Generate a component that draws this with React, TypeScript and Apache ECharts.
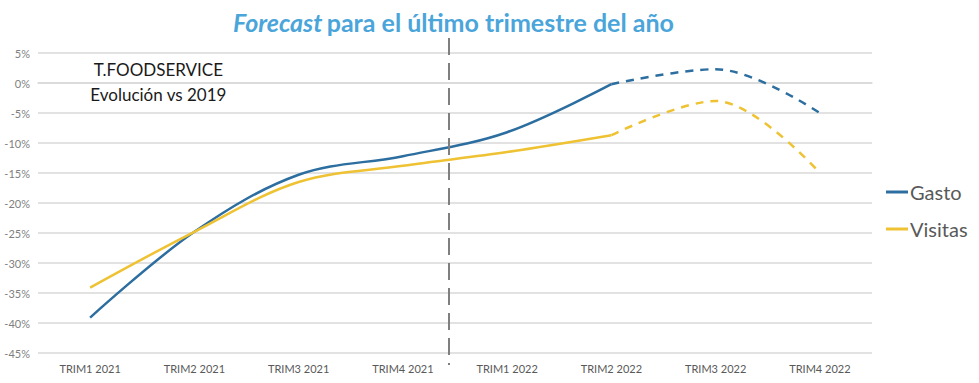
import React, { useEffect, useRef } from "react";
import * as echarts from "echarts";

const categories = [
  "TRIM1 2021", "TRIM2 2021", "TRIM3 2021", "TRIM4 2021",
  "TRIM1 2022", "TRIM2 2022", "TRIM3 2022", "TRIM4 2022",
];
// Solid (actual) part up to TRIM2 2022, dashed (forecast) from TRIM2 2022
const gastoActual = [-39.1, -24.8, -15.3, -12.2, -8.2, -0.2, null, null];
const gastoForecast = [null, null, null, null, null, -0.2, 2.3, -5.0];
const visitasActual = [-34.1, -24.8, -16.5, -13.8, -11.5, -8.7, null, null];
const visitasForecast = [null, null, null, null, null, -8.7, -3.0, -15.0];
const yTicks = { min: -45, max: 5, interval: 5 };
const titleItalic = "Forecast";
const titleRest = "para el último trimestre del año";
const noteLines = ["T.FOODSERVICE", "Evolución vs 2019"];

const BLUE = "#2C6E9F";
const YELLOW = "#EEC232";
const FONT = "Lato, 'Open Sans', sans-serif";

export default function App() {
  const ref = useRef<HTMLDivElement>(null);
  useEffect(() => {
    if (!ref.current) return;
    const chart = echarts.init(ref.current, null, { renderer: "svg" });
    const lineBase = { type: "line", smooth: 0.35, symbol: "none", connectNulls: false };
    chart.setOption({
      animation: false,
      backgroundColor: "#ffffff",
      textStyle: { fontFamily: FONT },
      title: {
        text: `{i|${titleItalic}} {b|${titleRest}}`,
        left: 228,
        top: 4,
        textStyle: {
          rich: {
            i: { fontFamily: FONT, fontStyle: "italic", fontWeight: "bold", fontSize: 25, color: "#4AA5DA" },
            b: { fontFamily: FONT, fontWeight: "bold", fontSize: 25, color: "#4AA5DA" },
          },
        },
      },
      legend: {
        orient: "vertical",
        left: 881,
        top: 177,
        itemGap: 17,
        icon: "rect",
        itemWidth: 22,
        itemHeight: 3,
        data: ["Gasto", "Visitas"],
        textStyle: { fontFamily: FONT, fontSize: 20, color: "#595959", padding: [0, 0, 0, -3] },
      },
      grid: { left: 38, right: 107, top: 53, bottom: 30 },
      xAxis: {
        type: "category",
        data: categories,
        boundaryGap: true,
        axisLine: { lineStyle: { color: "#D9D9D9", width: 1.5 } },
        axisTick: { show: false },
        axisLabel: { color: "#595959", fontSize: 11, fontFamily: FONT, margin: 10 },
      },
      yAxis: {
        type: "value",
        min: yTicks.min,
        max: yTicks.max,
        interval: yTicks.interval,
        axisLine: { show: false },
        axisTick: { show: false },
        splitLine: { lineStyle: { color: "#D9D9D9", width: 1.5 } },
        axisLabel: { color: "#7F7F7F", fontSize: 11, fontFamily: FONT, margin: 8, formatter: "{value}%" },
      },
      series: [
        { ...lineBase, name: "Gasto", data: gastoActual, color: BLUE, lineStyle: { color: BLUE, width: 2.5 } },
        { ...lineBase, name: "Gasto", data: gastoForecast, color: BLUE, lineStyle: { color: BLUE, width: 2.5, type: [8, 7] } },
        { ...lineBase, name: "Visitas", data: visitasActual, color: YELLOW, lineStyle: { color: YELLOW, width: 2.5 } },
        { ...lineBase, name: "Visitas", data: visitasForecast, color: YELLOW, lineStyle: { color: YELLOW, width: 2.5, type: [8, 7] } },
      ],
    });
    const p3 = chart.convertToPixel({ xAxisIndex: 0 }, categories[3]) as number;
    const p4 = chart.convertToPixel({ xAxisIndex: 0 }, categories[4]) as number;
    const p1 = chart.convertToPixel({ xAxisIndex: 0 }, categories[1]) as number;
    const divX = (p3 + p4) / 2 - 6;
    const noteX = p1 - 36;
    const yTop = chart.convertToPixel({ yAxisIndex: 0 }, yTicks.max) as number;
    const yZero = chart.convertToPixel({ yAxisIndex: 0 }, 0) as number;
    const yBot = chart.convertToPixel({ yAxisIndex: 0 }, yTicks.min) as number;
    chart.setOption({
      graphic: [
        {
          type: "line",
          shape: { x1: divX, y1: yTop - 15, x2: divX, y2: yBot + 12 },
          style: { stroke: "#7F7F7F", lineWidth: 2, lineDash: [17, 8] },
          z: 10,
        },
        {
          type: "text",
          x: noteX,
          y: yZero - 1,
          style: {
            text: noteLines.join("\n"),
            fill: "#1A1A1A",
            fontFamily: FONT,
            fontSize: 17,
            lineHeight: 25,
            align: "center",
            verticalAlign: "middle",
          },
        },
      ],
    });
    return () => chart.dispose();
  }, []);
  return (
    <div
      ref={ref}
      style={{ position: "fixed", left: 0, top: 0, width: 979, height: 383, background: "#fff" }}
    />
  );
}
